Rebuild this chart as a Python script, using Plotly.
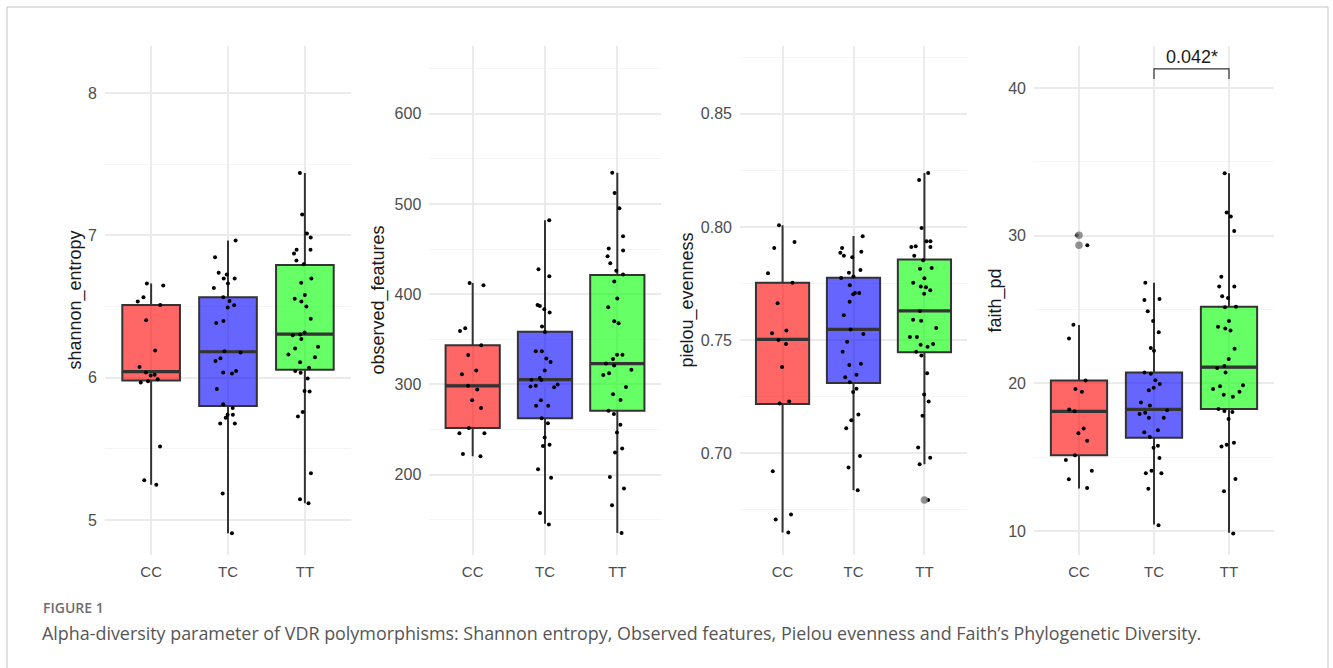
import plotly.graph_objects as go

W, H = 1333, 668

groups = ["CC", "TC", "TT"]
fill_colors = ["rgba(255,0,0,0.6)", "rgba(0,0,255,0.6)", "rgba(0,255,0,0.6)"]

# ---------------- shannon_entropy ----------------
shannon_CC = [6.648, 6.661, 6.535, 6.565, 6.511, 6.403, 6.19, 6.074, 6.037, 6.02,
              6.015, 5.988, 5.975, 5.966, 5.517, 5.28, 5.247]
shannon_TC = [6.963, 6.845, 6.737, 6.724, 6.696, 6.696, 6.661, 6.629, 6.565, 6.538,
              6.508, 6.492, 6.398, 6.384, 6.177, 6.185, 6.136, 6.117, 6.037, 6.029,
              6.047, 5.921, 5.813, 5.786, 5.74, 5.74, 5.719, 5.678, 5.678, 5.186, 4.906]
shannon_TT = [7.437, 7.146, 7.012, 6.985, 6.872, 6.898, 6.898, 6.823, 6.796, 6.696,
              6.667, 6.554, 6.535, 6.581, 6.5, 6.414, 6.317, 6.303, 6.298, 6.271,
              6.217, 6.204, 6.163, 6.144, 6.109, 6.069, 6.034, 6.047, 5.994, 5.907,
              5.902, 5.727, 5.759, 5.328, 5.145, 5.118]
shannon_q1 = [5.98, 5.80, 6.055]
shannon_median = [6.042, 6.182, 6.306]
shannon_q3 = [6.511, 6.565, 6.791]
shannon_low = [5.247, 4.906, 5.118]
shannon_high = [6.661, 6.963, 7.437]
shannon_outliers = [[], [], []]

# ---------------- observed_features ----------------
observed_CC = [412.3, 410, 359.2, 362.2, 343.5, 332.5, 315.5, 311.3, 298.5, 294.3,
               282.4, 274, 251.8, 245.9, 245.9, 223, 220.4]
observed_TC = [482, 427.6, 420, 388.1, 386.8, 383.4, 379.6, 364.3, 358, 336.7,
               336.7, 328.7, 324.8, 315.5, 307, 305.3, 304.9, 297.7, 298.5, 296.8,
               299.8, 282.4, 276.4, 276.4, 262.4, 256.9, 241.2, 233.1, 231.8, 205.9,
               196.6, 157.5, 144.8]
observed_TT = [534.6, 512.1, 495.1, 464.1, 450.5, 448.4, 442, 434.4, 425.9, 421.7,
               414, 395.3, 385.6, 369.9, 367.7, 332.9, 332.9, 328.2, 323.1, 321,
               316.4, 312.5, 310.4, 297.2, 289.2, 282.8, 270.9, 267.1, 255.2, 246.7,
               228.9, 224.6, 184.7, 197.5, 166, 135.5]
observed_q1 = [251.8, 262.4, 270.9]
observed_median = [298.5, 305.3, 323.1]
observed_q3 = [343.5, 358.4, 421.2]
observed_low = [220.4, 145.6, 135.5]
observed_high = [412.3, 482, 534.6]
observed_outliers = [[], [], []]

# ---------------- pielou_evenness ----------------
pielou_CC = [0.8008, 0.7934, 0.7907, 0.7795, 0.7754, 0.7663, 0.7542, 0.753, 0.75, 0.7483,
             0.7381, 0.722, 0.7229, 0.692, 0.6707, 0.6729, 0.6649]
pielou_TC = [0.7959, 0.7907, 0.7886, 0.789, 0.7866, 0.7873, 0.781, 0.7798, 0.7781, 0.7775,
             0.7742, 0.7708, 0.7703, 0.7708, 0.767, 0.761, 0.7547, 0.7527, 0.7493, 0.7449,
             0.7395, 0.739, 0.7336, 0.7347, 0.7314, 0.7285, 0.7271, 0.7171, 0.7146, 0.711,
             0.6988, 0.6937, 0.6836]
pielou_TT = [0.8239, 0.8208, 0.7995, 0.7915, 0.7937, 0.7912, 0.7937, 0.7912, 0.7873, 0.7853,
             0.7815, 0.7819, 0.7773, 0.7754, 0.7737, 0.7734, 0.772, 0.7705, 0.7629, 0.759,
             0.7585, 0.7553, 0.7514, 0.7514, 0.7483, 0.7479, 0.7471, 0.7449, 0.7432, 0.7353,
             0.7259, 0.7229, 0.7166, 0.7025, 0.698, 0.6951, 0.6793]
pielou_q1 = [0.7217, 0.731, 0.7446]
pielou_median = [0.7503, 0.7547, 0.7629]
pielou_q3 = [0.7754, 0.7776, 0.7856]
pielou_low = [0.6649, 0.6836, 0.6951]
pielou_high = [0.8008, 0.796, 0.8239]
pielou_outliers = [[], [], [0.6793]]

# ---------------- faith_pd ----------------
faith_CC = [30.03, 29.35, 23.97, 23.04, 20.18, 19.61, 19.43, 18.23, 18.1, 16.62,
            16.94, 16.1, 15.12, 14.81, 14.08, 13.5, 12.9]
faith_TC = [26.81, 25.64, 25.71, 24.88, 24.21, 23.45, 22.39, 22.21, 20.65, 20.73,
            20.21, 19.95, 19.53, 19.69, 18.7, 18.49, 18.18, 18.0, 17.92, 17.66,
            17.66, 16.68, 16.81, 16.36, 15.77, 15.64, 14.94, 14.08, 13.9, 13.9,
            12.86, 10.39]
faith_TT = [34.23, 31.56, 31.3, 30.31, 27.22, 26.55, 26.55, 25.9, 25.77, 25.14,
            25.19, 24.21, 23.82, 23.71, 23.58, 22.34, 21.64, 21.17, 21.04, 20.73,
            19.87, 19.79, 19.61, 19.43, 19.09, 19.22, 18.26, 18.13, 18.05, 17.58,
            15.97, 15.84, 15.71, 13.51, 12.68, 9.82]
faith_q1 = [15.12, 16.31, 18.26]
faith_median = [18.1, 18.23, 21.09]
faith_q3 = [20.18, 20.73, 25.19]
faith_low = [12.88, 10.44, 9.87]
faith_high = [23.95, 26.81, 34.23]
faith_outliers = [[30.03, 29.35], [], []]

# significance bracket (faith_pd)
sig_pair = ["TC", "TT"]
sig_label = "0.042*"
sig_y = 41.29
sig_tip = 40.61
sig_text_y = 42.1

# axis titles / ticks
y_titles = ["shannon_entropy", "observed_features", "pielou_evenness", "faith_pd"]
y_ranges = [[4.754, 8.33], [111, 675], [0.655, 0.880], [8.37, 42.84]]
y_dticks = [1, 100, 0.05, 10]
y_minor = [0.5, 50, 0.025, 5]
y_tickfmt = ["", "", ".2f", ""]

caption_label = "FIGURE 1"
caption_text = ("Alpha-diversity parameter of VDR polymorphisms: Shannon entropy, Observed features, "
                "Pielou evenness and Faith\u2019s Phylogenetic Diversity.")

# ---------------- layout geometry (pixels) ----------------
panel_x = [(105, 351), (429.3, 660.7), (740, 967), (1034, 1274)]
title_x = [75, 378, 687, 995]
plot_top, plot_bot = 46, 555

panels = [
    ([shannon_CC, shannon_TC, shannon_TT], shannon_q1, shannon_median, shannon_q3,
     shannon_low, shannon_high, shannon_outliers),
    ([observed_CC, observed_TC, observed_TT], observed_q1, observed_median, observed_q3,
     observed_low, observed_high, observed_outliers),
    ([pielou_CC, pielou_TC, pielou_TT], pielou_q1, pielou_median, pielou_q3,
     pielou_low, pielou_high, pielou_outliers),
    ([faith_CC, faith_TC, faith_TT], faith_q1, faith_median, faith_q3,
     faith_low, faith_high, faith_outliers),
]

FONT = "Liberation Sans, Arial, sans-serif"
fig = go.Figure()
annotations = []

for i, (pts, q1, med, q3, lo, hi, outs) in enumerate(panels):
    xa = "x" if i == 0 else f"x{i + 1}"
    ya = "y" if i == 0 else f"y{i + 1}"
    for g in range(3):
        fig.add_trace(go.Box(
            x=[groups[g]], q1=[q1[g]], median=[med[g]], q3=[q3[g]],
            lowerfence=[lo[g]], upperfence=[hi[g]],
            fillcolor=fill_colors[g], line=dict(color="#333333", width=2),
            whiskerwidth=0, width=0.75, boxpoints=False,
            xaxis=xa, yaxis=ya, showlegend=False, hoverinfo="skip"))
        # thicker median line
        fig.add_trace(go.Box(
            x=[groups[g]], q1=[med[g]], median=[med[g]], q3=[med[g]],
            lowerfence=[med[g]], upperfence=[med[g]],
            fillcolor="rgba(0,0,0,0)", line=dict(color="#333333", width=3.2),
            whiskerwidth=0, width=0.75, boxpoints=False,
            xaxis=xa, yaxis=ya, showlegend=False, hoverinfo="skip"))
        if outs[g]:
            fig.add_trace(go.Scatter(
                x=[groups[g]] * len(outs[g]), y=outs[g], mode="markers",
                marker=dict(color="rgba(110,110,110,0.75)", size=7.5),
                xaxis=xa, yaxis=ya, showlegend=False, hoverinfo="skip"))
        fig.add_trace(go.Box(
            x=[groups[g]] * len(pts[g]), y=pts[g], boxpoints="all", jitter=1,
            pointpos=0, width=0.44, fillcolor="rgba(0,0,0,0)",
            line=dict(color="rgba(0,0,0,0)", width=0),
            marker=dict(color="black", size=4),
            xaxis=xa, yaxis=ya, showlegend=False, hoverinfo="skip"))

    x0, x1 = panel_x[i]
    xkey = "xaxis" if i == 0 else f"xaxis{i + 1}"
    ykey = "yaxis" if i == 0 else f"yaxis{i + 1}"
    fig.layout[xkey] = dict(
        domain=[x0 / W, x1 / W], anchor=ya, type="category",
        categoryorder="array", categoryarray=groups, range=[-0.6, 2.6],
        showgrid=True, gridcolor="#EBEBEB", gridwidth=1.6, zeroline=False,
        showline=False, ticks="", ticklabelstandoff=6,
        tickfont=dict(family=FONT, size=15, color="#4D4D4D"), fixedrange=True)
    fig.layout[ykey] = dict(
        domain=[1 - plot_bot / H, 1 - plot_top / H], anchor=xa,
        range=y_ranges[i], dtick=y_dticks[i], tick0=0, tickformat=y_tickfmt[i],
        showgrid=True, gridcolor="#EBEBEB", gridwidth=1.6,
        minor=dict(dtick=y_minor[i], tick0=0, showgrid=True, gridcolor="#F5F5F5", gridwidth=1),
        zeroline=False, showline=False, ticks="", ticklabelstandoff=7,
        tickfont=dict(family=FONT, size=16, color="#4D4D4D"), fixedrange=True)
    annotations.append(dict(
        xref="paper", yref="paper", x=title_x[i] / W,
        y=1 - ((plot_top + plot_bot) / 2) / H, text=y_titles[i], textangle=-90,
        showarrow=False, xanchor="center", yanchor="middle",
        font=dict(family=FONT, size=18, color="#1A1A1A")))

# significance bracket on faith_pd
fig.add_trace(go.Scatter(
    x=[sig_pair[0], sig_pair[0], sig_pair[1], sig_pair[1]],
    y=[sig_tip, sig_y, sig_y, sig_tip], mode="lines",
    line=dict(color="#333333", width=1.2), xaxis="x4", yaxis="y4",
    showlegend=False, hoverinfo="skip", cliponaxis=False))
annotations.append(dict(
    xref="x4", yref="y4", x=1.5, y=sig_text_y, text=sig_label, showarrow=False,
    xanchor="center", yanchor="middle", font=dict(family=FONT, size=18, color="#1A1A1A")))

# caption
annotations.append(dict(
    xref="paper", yref="paper", x=41 / W, y=1 - 607 / H, text=caption_label,
    showarrow=False, xanchor="left", yanchor="middle",
    font=dict(family="Open Sans, sans-serif", size=14, color="#6E6E6E", weight=600)))
annotations.append(dict(
    xref="paper", yref="paper", x=40 / W, y=1 - 633 / H, text=caption_text,
    showarrow=False, xanchor="left", yanchor="middle",
    font=dict(family="Open Sans, sans-serif", size=17.9, color="#555555")))

fig.update_layout(
    width=W, height=H, margin=dict(l=0, r=0, t=0, b=0),
    paper_bgcolor="white", plot_bgcolor="white", boxmode="overlay",
    annotations=annotations,
    shapes=[dict(type="rect", xref="paper", yref="paper",
                 x0=7 / W, x1=1328 / W, y0=-0.1, y1=1 - 7 / H,
                 line=dict(color="#C4C4C4", width=1), fillcolor="rgba(0,0,0,0)")],
)

fig.write_html("out.html", config=dict(displayModeBar=False))
